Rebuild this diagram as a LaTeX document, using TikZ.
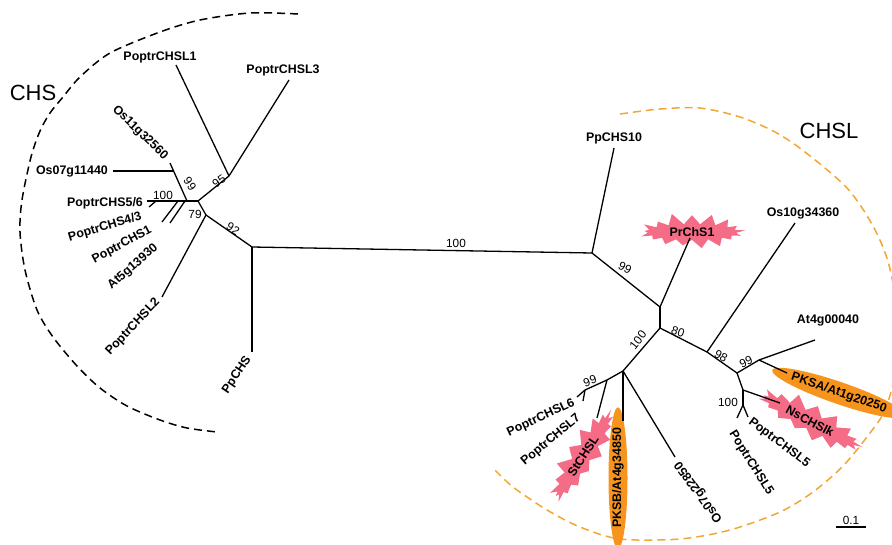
\documentclass[tikz,border=0pt]{standalone}
\usepackage{fontspec}
\setmainfont{Liberation Sans}
\usetikzlibrary{calc}
\usetikzlibrary{positioning}
\usetikzlibrary{shapes.geometric, shapes.symbols}
\definecolor{burstpink}{RGB}{245,108,134}
\definecolor{pksorange}{RGB}{247,148,29}
\definecolor{arcorange}{RGB}{242,166,52}
\tikzset{
    leaf/.style={
           font=\fontsize{12.4}{14}\selectfont\bfseries,
           inner sep=1pt,
           },
    boot/.style={
           font=\fontsize{11.8}{13}\selectfont,
           inner sep=1pt,
           },
    branch/.style={line width=1.3pt},
    burst/.style={
           starburst, fill=burstpink,
           starburst points=17,
           starburst point height=12pt,
           random starburst=11,
           inner xsep=9pt, inner ysep=1pt,
           },
    pks/.style={
           ellipse, fill=pksorange,
           inner sep=0pt,
           minimum width=112pt, minimum height=22pt,
           },
    cladearc/.style={dash pattern=on 8pt off 5pt, line width=1.5pt},
    clade/.style={font=\fontsize{22}{24}\selectfont},
}
\begin{document}
\begin{tikzpicture}[x=1pt,y=-1pt]
    \useasboundingbox (0,0) rectangle (892,544);
    % the two groups
    \draw[cladearc] plot[smooth] coordinates {(298,14) (250,13) (200,20) (160,32) (110,53) (80,77) (63,97) (50,113) (40,131) (31,157) (22,200) (20,232) (25,270) (37,310) (53,337) (77,366) (100,388) (127,406) (160,420) (187,428) (217,432)};
    \draw[cladearc,arcorange] plot[smooth] coordinates {(620,114) (660,109) (700,108) (740,117) (775,132) (805,152) (847,188) (873,226) (889,265) (898,320) (896,370) (885,410) (870,433) (843,466) (813,492) (780,512) (730,530) (680,539) (620,539) (580,527) (547,510) (513,487) (493,468)};
    \node[clade] (chs) at (33,93) {CHS};
    \node[clade] (chsl) at (829,131) {CHSL};

    % CHS side
    \coordinate (n_92) at (252,247);
    \coordinate (n_79) at (206,215);
    \coordinate (n_j) at (198,201);
    \coordinate (n_95) at (229,176);
    \coordinate (n_99) at (173.5,171);
    \coordinate (n_b) at (187,201);
    \coordinate (n_100) at (156,201);
    \coordinate (n_43) at (185,201);
    \coordinate (n_1) at (178,201);
    \coordinate (t_l1) at (176,65);
    \coordinate (t_l3) at (289,80);
    \coordinate (t_os11) at (170,163);
    \coordinate (t_os07) at (113,171);
    \coordinate (t_56) at (147,201);
    \coordinate (t_56b) at (149,207);
    \coordinate (t_43) at (170,223);
    \coordinate (t_1) at (162,222);
    \coordinate (t_l2) at (162,297);
    \coordinate (t_pp) at (252,352);

    % CHSL side
    \coordinate (r_99) at (592,253);
    \coordinate (r_b) at (660,307);
    \coordinate (r_c) at (660,328);
    \coordinate (r_100) at (623,371);
    \coordinate (r_e) at (607,380);
    \coordinate (r_f) at (585,390);
    \coordinate (r_98) at (707,352);
    \coordinate (r_g) at (737,373);
    \coordinate (r_h) at (759,360);
    \coordinate (r_i) at (743,390);
    \coordinate (r_j) at (743,405);
    \coordinate (t_pc10) at (614,148);
    \coordinate (t_pr) at (690,238);
    \coordinate (t_pksb) at (623,421);
    \coordinate (t_os07b) at (675,457);
    \coordinate (t_st) at (597,418);
    \coordinate (t_l6) at (577,397);
    \coordinate (t_l7) at (583,401);
    \coordinate (t_os10) at (795,223);
    \coordinate (t_at4) at (815,340);
    \coordinate (t_pksa) at (787,373);
    \coordinate (t_ns) at (780,403);
    \coordinate (t_l5a) at (737,418);
    \coordinate (t_l5b) at (748,417);

    % pink and orange marks go under the branches
    \node[leaf,burst] (l_pr) at (692,232) {PrChS1};
    \node[leaf,burst,rotate=-28] (l_ns) at (810,421) {NsCHSlk};
    \node[leaf,burst,rotate=57] (l_st) at (583,456) {StCHSL};
    \node[leaf,pks,rotate=-19] (l_pksa) at (839,393) {PKSA/At1g20250};
    \node[leaf,pks,rotate=90,minimum width=113pt,minimum height=19pt] (l_pksb) at (618,478) {PKSB/At4g34850};

    \path[branch]
    (n_92) edge (r_99)
    (n_92) edge (t_pp)
    (n_92) edge (n_79)
    (n_79) edge (t_l2)
    (n_79) edge (n_j)
    (n_j) edge (n_95)
    (n_95) edge (t_l1)
    (n_95) edge (t_l3)
    (n_j) edge (t_56)
    (n_100) edge (t_56b)
    (n_43) edge (t_43)
    (n_1) edge (t_1)
    (n_b) edge (t_os11)
    (n_99) edge (t_os07)
    (r_99) edge (t_pc10)
    (r_99) edge (r_b)
    (r_b) edge (t_pr)
    (r_b) edge (r_c)
    (r_c) edge (r_100)
    (r_c) edge (r_98)
    (r_100) edge (t_pksb)
    (r_100) edge (t_os07b)
    (r_100) edge (r_e)
    (r_e) edge (t_st)
    (r_e) edge (r_f)
    (r_f) edge (t_l6)
    (r_f) edge (t_l7)
    (r_98) edge (t_os10)
    (r_98) edge (r_g)
    (r_g) edge (r_h)
    (r_h) edge (t_at4)
    (r_h) edge (t_pksa)
    (r_g) edge (r_i)
    (r_i) edge (t_ns)
    (r_i) edge (r_j)
    (r_j) edge (t_l5a)
    (r_j) edge (t_l5b);

    % leaves
    \node[leaf] (l_l1) at (160,57) {PoptrCHSL1};
    \node[leaf] (l_l3) at (283,70) {PoptrCHSL3};
    \node[leaf,rotate=-44] (l_os11) at (140,133) {Os11g32560};
    \node[leaf] (l_os07) [left=4pt of t_os07] {Os07g11440};
    \node[leaf] (l_56) at (105,203) {PoptrCHS5/6};
    \node[leaf,rotate=17] (l_43) at (105,227) {PoptrCHS4/3};
    \node[leaf,rotate=28] (l_1) at (122,245) {PoptrCHS1};
    \node[leaf,rotate=41] (l_at5) at (133,267) {At5g13930};
    \node[leaf,rotate=47] (l_l2) at (133,327) {PoptrCHSL2};
    \node[leaf,rotate=56] (l_pp) at (237,375) {PpCHS};
    \node[leaf] (l_pc10) [above=3pt of t_pc10] {PpCHS10};
    \node[leaf] (l_os10) at (803,213) {Os10g34360};
    \node[leaf] (l_at4) at (828,320) {At4g00040};
    \node[leaf,rotate=-58] (l_l5a) at (751,463) {PoptrCHSL5};
    \node[leaf,rotate=-37] (l_l5b) at (779,443) {PoptrCHSL5};
    \node[leaf,rotate=126] (l_os07b) at (699,492) {Os07g22850};
    \node[leaf,rotate=40] (l_l7) at (551,440) {PoptrCHSL7};
    \node[leaf,rotate=25] (l_l6) at (541,418) {PoptrCHSL6};

    % bootstrap values
    \node[boot,rotate=35] (b_95) at (219,181) {95};
    \node[boot,rotate=-55] (b_99) at (190,184) {99};
    \node[boot] (b_100) at (163,195) {100};
    \node[boot] (b_79) at (195,214) {79};
    \node[boot,rotate=-32] (b_92) at (233,229) {92};
    \node[boot] (b_main) at (456,243) {100};
    \node[boot,rotate=-27] (b_r99) at (625,268) {99};
    \node[boot,rotate=52] (b_r100) at (638,340) {100};
    \node[boot,rotate=-20] (b_80) at (678,332) {80};
    \node[boot,rotate=-30] (b_98) at (721,356) {98};
    \node[boot,rotate=25] (b_99b) at (746,362) {99};
    \node[boot] (b_100b) at (728,402) {100};
    \node[boot,rotate=20] (b_99c) at (590,381) {99};

    % scale
    \coordinate (s_l) at (836,527);
    \coordinate (s_r) at (866,527);
    \draw[branch] (s_l) -- (s_r);
    \node[boot] (s_lab) [above=1pt of $(s_l)!0.5!(s_r)$] {0.1};
\end{tikzpicture}
\end{document}
